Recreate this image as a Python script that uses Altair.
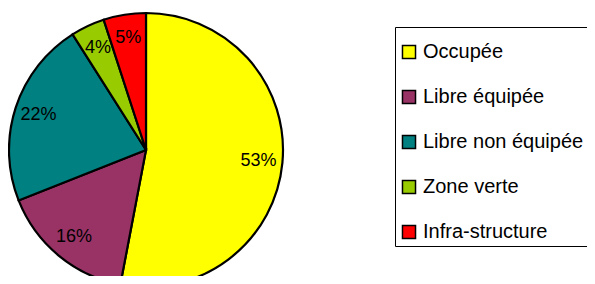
import altair as alt
import pandas as pd

categories = ["Occupée", "Libre équipée", "Libre non équipée", "Zone verte", "Infra-structure"]
values = [53, 16, 22, 4, 5]
labels = ["53%", "16%", "22%", "4%", "5%"]
colors = ["#FFFF00", "#993366", "#008080", "#99CC00", "#FF0000"]

df = pd.DataFrame({"cat": categories, "value": values, "label": labels, "order": list(range(len(categories)))})

FONT = "Liberation Sans, Arial, sans-serif"

legend = alt.Legend(
    orient="none", legendX=387, legendY=19, title=" ", titleFontSize=1, titlePadding=10,
    strokeColor="black", padding=4, fillColor="white",
    symbolType="square", symbolSize=170, symbolStrokeColor="black", symbolStrokeWidth=1.5,
    symbolOpacity=1, labelFont=FONT, labelFontSize=20, labelColor="black", labelOffset=4,
    rowPadding=25, labelLimit=400, labelExpr="datum.label + '\u00a0\u00a0\u00a0\u00a0\u00a0'",
)

base = alt.Chart(df).encode(
    theta=alt.Theta("value:Q", stack=True),
    order=alt.Order("order:Q"),
    x=alt.value(138), y=alt.value(142),
)

pie = base.mark_arc(outerRadius=137, stroke="black", strokeWidth=2.2).encode(
    color=alt.Color("cat:N", scale=alt.Scale(domain=categories, range=colors), legend=legend)
)
text = base.mark_text(radius=113, fontSize=18, font=FONT, color="black").encode(text="label:N")

chart = (pie + text).properties(
    width=579, height=268, autosize=alt.AutoSizeParams(type="none"), padding=0
).configure_view(stroke=None)

chart.save("out.html", embed_options={"renderer": "svg", "actions": False})
